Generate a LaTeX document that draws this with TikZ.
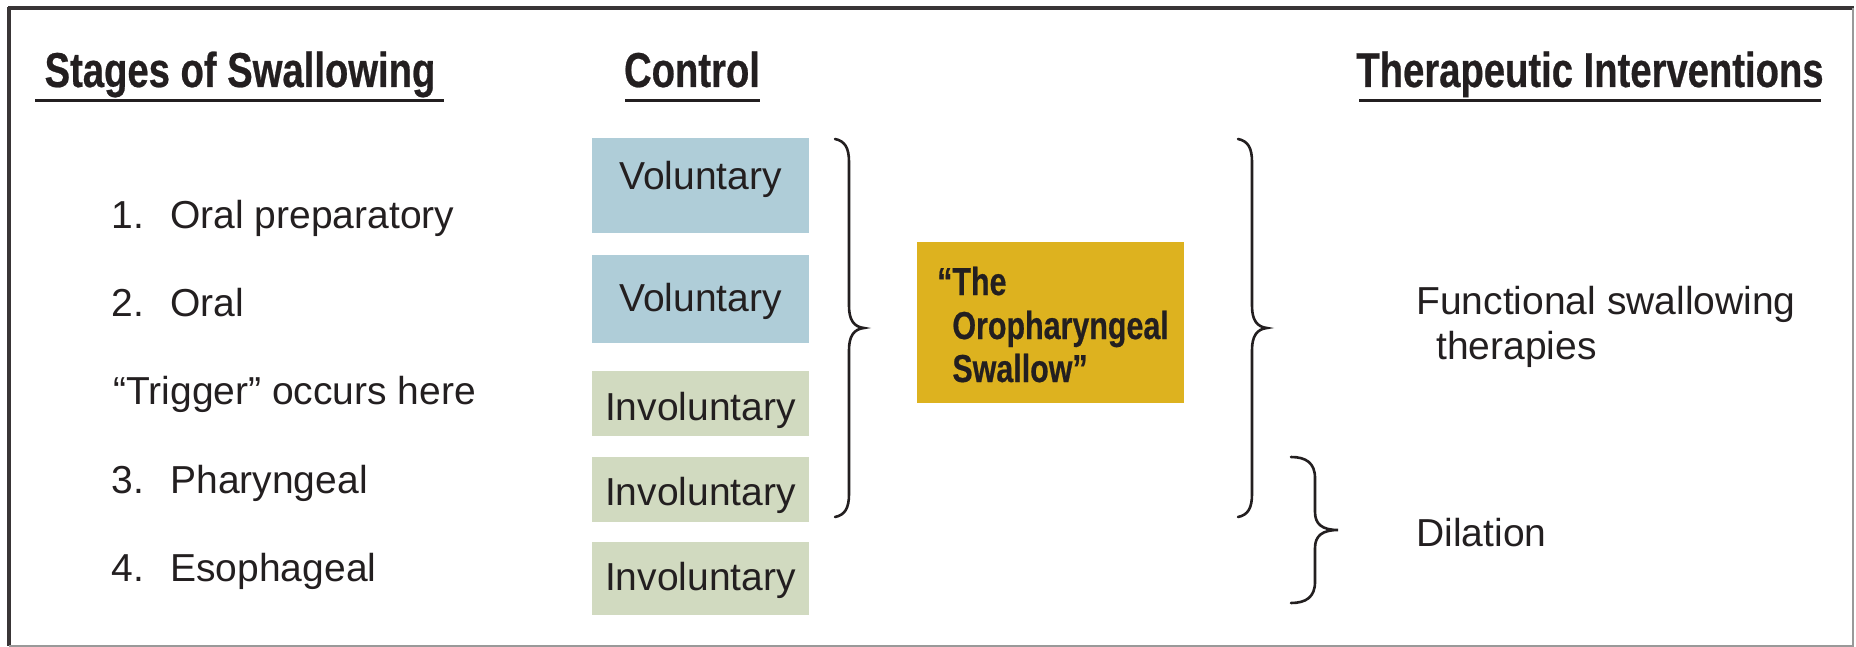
\documentclass[tikz,border=0pt]{standalone}
\usepackage{fontspec}
\setmainfont{Liberation Sans}
\newfontfamily\hdrfont{Liberation Sans}[FakeStretch=0.78,FakeBold=0.5]
\usetikzlibrary{fit}
\definecolor{volblue}{HTML}{AFCDD8}
\definecolor{invgreen}{HTML}{D1DAC0}
\definecolor{goldbox}{HTML}{DDB21F}
\definecolor{ink}{HTML}{231F20}
\definecolor{framegray}{HTML}{999999}
\begin{document}
\begin{tikzpicture}[x=0.5pt,y=-0.5pt,
  hdr/.style={font=\hdrfont\bfseries\fontsize{24.5}{28}\selectfont, text=ink, anchor=base, inner sep=0pt},
  body/.style={font=\fontsize{19.5}{23}\selectfont, text=ink, anchor=base west, inner sep=0pt},
  ctext/.style={font=\fontsize{19.5}{23}\selectfont, text=ink, anchor=base, inner sep=0pt},
  gtext/.style={font=\hdrfont\bfseries\fontsize{19.5}{23}\selectfont, text=ink, anchor=base west, inner sep=0pt},
  cbox/.style={inner sep=0pt, draw=none},
  rule/.style={line width=1.5pt, ink},
  bracepath/.style={line width=1.3pt, ink, line cap=round}]
\useasboundingbox (0,0) rectangle (1856,647);
% frame
\draw[line width=2pt, color=ink!90] (8,8) -- (1854,8);
\draw[line width=2pt, color=ink!90] (9,7) -- (9,646);
\draw[line width=1pt, framegray] (1853,8) -- (1853,646) -- (9,646);
% headers
\node[hdr] (h1) at (240,87) {Stages of Swallowing};
\node[hdr] (h2) at (692,87) {Control};
\node[hdr] (h3) at (1590,87) {Therapeutic Interventions};
\draw[rule] (35,101) -- (444,101);
\draw[rule] (625,101) -- (760,101);
\draw[rule] (1359,101) -- (1821,101);
% stages
\node[body] (n1) at (111,228) {1.};
\node[body] (s1) at (170,228) {Oral preparatory};
\node[body] (n2) at (111,316) {2.};
\node[body] (s2) at (170,316) {Oral};
\node[body] (tr) at (113,404) {“Trigger” occurs here};
\node[body] (n3) at (111,493) {3.};
\node[body] (s3) at (170,493) {Pharyngeal};
\node[body] (n4) at (111,581) {4.};
\node[body] (s4) at (170,581) {Esophageal};
% control boxes
\node[cbox, fill=volblue, fit={(592,138) (809,233)}] (b1) {};
\node[cbox, fill=volblue, fit={(592,255) (809,343)}] (b2) {};
\node[cbox, fill=invgreen, fit={(592,371) (809,436)}] (b3) {};
\node[cbox, fill=invgreen, fit={(592,457) (809,522)}] (b4) {};
\node[cbox, fill=invgreen, fit={(592,542) (809,615)}] (b5) {};
\node[ctext] (c1) at (700.5,189) {Voluntary};
\node[ctext] (c2) at (700.5,311) {Voluntary};
\node[ctext] (c3) at (700.5,420) {Involuntary};
\node[ctext] (c4) at (700.5,505) {Involuntary};
\node[ctext] (c5) at (700.5,590) {Involuntary};
% gold box
\node[cbox, fill=goldbox, fit={(917,242) (1184,403)}] (gb) {};
\node[gtext] (g1) at (952,295) {\llap{“}The};
\node[gtext] (g2) at (952,339) {Oropharyngeal};
\node[gtext] (g3) at (952,382) {Swallow”};
% braces
\draw[bracepath] (835,139) .. controls (845,141) and (849,148) .. (849,162) -- (849,306)
  .. controls (849,320) and (854,327) .. (864,328)
  .. controls (854,329) and (849,336) .. (849,350) -- (849,494)
  .. controls (849,508) and (845,515) .. (835,517);
\draw[bracepath] (1238,139) .. controls (1248,141) and (1252,148) .. (1252,162) -- (1252,306)
  .. controls (1252,320) and (1257,327) .. (1267,328)
  .. controls (1257,329) and (1252,336) .. (1252,350) -- (1252,494)
  .. controls (1252,508) and (1248,515) .. (1238,517);
\draw[bracepath] (1291,457) .. controls (1306,457) and (1315,463) .. (1315,478) -- (1315,512)
  .. controls (1315,524) and (1322,530) .. (1338,530)
  .. controls (1322,530) and (1315,536) .. (1315,548) -- (1315,582)
  .. controls (1315,597) and (1306,603) .. (1291,603);
% interventions
\node[body] (f1) at (1416,314) {Functional swallowing};
\node[body] (f2) at (1436,359) {therapies};
\node[body] (d1) at (1416,546) {Dilation};
\end{tikzpicture}
\end{document}
